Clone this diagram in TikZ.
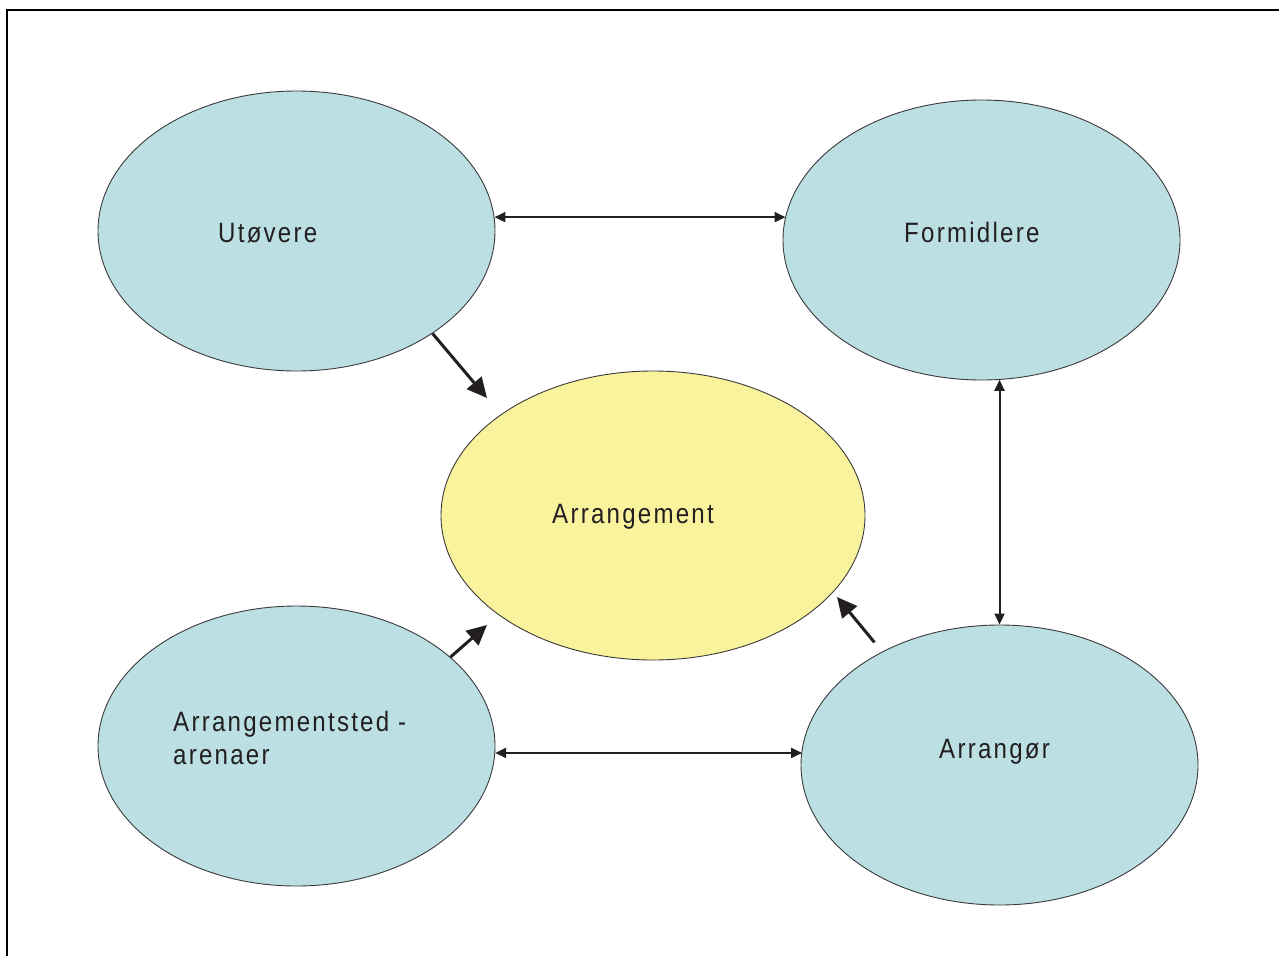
\documentclass[tikz,border=0pt]{standalone}
\usepackage{fontspec}
\setmainfont{Liberation Sans}[FakeStretch=0.86, LetterSpace=8]
\usetikzlibrary{arrows.meta,shapes.geometric}
\definecolor{bluefill}{HTML}{BBDFE3}
\definecolor{yellowfill}{HTML}{FAF39E}
\definecolor{outline}{HTML}{3A3A3A}
\definecolor{ink}{HTML}{231F20}
\tikzset{
  blob/.style={ellipse, draw=outline, line width=0.9pt, inner sep=0pt,
    minimum width=397pt, minimum height=280pt, fill=bluefill},
  centreblob/.style={blob, minimum width=424pt, minimum height=289pt, fill=yellowfill},
  lbl/.style={anchor=base west, inner sep=0pt, text=ink,
    font=\fontsize{28}{33}\selectfont, align=left},
  twoway/.style={draw=ink, line width=2pt, {Triangle[length=11pt,width=10pt]}-{Triangle[length=11pt,width=10pt]}},
  oneway/.style={draw=ink, line width=3pt, -{Triangle[length=20pt,width=19pt]}},
  frame/.style={draw=black, line width=2.5pt}
}
\begin{document}
\begin{tikzpicture}[x=1pt,y=-1pt]
\useasboundingbox (0,0) rectangle (1279,956);
\coordinate (fa) at (7,956);
\coordinate (fb) at (7,10);
\coordinate (fc) at (1281,10);
\draw[frame] (fa) -- (fb) -- (fc);

\node[blob] (ut) at (296.5,231) {};
\node[blob] (fo) at (981.5,240) {};
\node[centreblob] (ar) at (653,515.5) {};
\node[blob] (as) at (296.5,746) {};
\node[blob] (ag) at (999.5,765) {};

\node[lbl] (tut) at (218,242) {Utøvere};
\node[lbl] (tfo) at (904,242) {Formidlere};
\node[lbl] (tar) at (552,523) {Arrangement};
\node[lbl] (tas) at (173,764) {Arrangementsted -\\arenaer};
\node[lbl] (tag) at (939,758) {Arrangør};

\draw[twoway] (ut.4) -- (fo.173.3 |- ut.4);
\draw[twoway] (as.-2) -- (ag.175.9 |- as.-2);
\draw[twoway] (fo.-82.85 -| ag.90) -- (ag.90);

\coordinate (h1) at (487,398);
\coordinate (h2) at (487,625);
\coordinate (h3) at (837,597);
\draw[oneway] (ut.-37) -- (h1);
\draw[oneway] (as.30.4) -- (h2);
\draw[oneway, shorten <=12pt] (ag.136.4) -- (h3);
\end{tikzpicture}
\end{document}
